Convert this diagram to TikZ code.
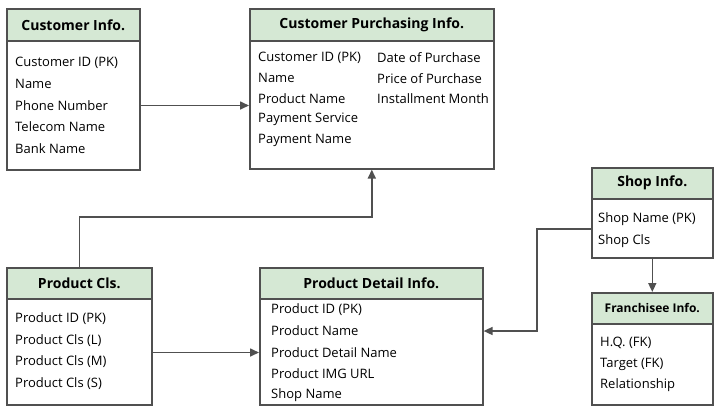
\documentclass[tikz,border=0pt]{standalone}
\usepackage{fontspec}
\setmainfont{Open Sans}
\usetikzlibrary{positioning,
                arrows.meta}                % arrow tips

\definecolor{linegray}{HTML}{505050}
\definecolor{headgreen}{HTML}{D5E8D4}

\begin{document}
\begin{tikzpicture}[x=1pt, y=-1pt,
    box/.style={draw=linegray, line width=1.6pt, fill=white, inner sep=0pt, anchor=north west},
    head/.style={box, fill=headgreen, font=\fontsize{14}{16}\selectfont\bfseries},
    field/.style={anchor=west, inner sep=0pt, yshift=-1.5pt, font=\fontsize{13}{15}\selectfont},
    link/.style={draw=linegray, line width=1.6pt, -{Triangle[length=9pt,width=8pt]}}]
    \useasboundingbox (0,0) rectangle (720,416);

    % customer info
    \node[box, minimum width=133pt, minimum height=161pt] (ci) at (6,8) {};
    \node[head, minimum width=133pt, minimum height=32pt] (cih) at (6,8) {Customer Info.};
    \foreach \t [count=\i] in {Customer ID (PK), Name, Phone Number, Telecom Name, Bank Name}
        \node[field] (ci-\i) at (15,61+21.5*\i-21.5) {\t};

    % customer purchasing info
    \node[box, minimum width=244pt, minimum height=160pt] (cpi) at (249,8) {};
    \node[head, minimum width=244pt, minimum height=32pt] (cpih) at (249,8) {Customer Purchasing Info.};
    \foreach \t [count=\i] in {Customer ID (PK), Name, Product Name, Payment Service, Payment Name}
        \node[field] (cpi-\i) at (258,56+20.75*\i-20.75) {\t};
    \foreach \t [count=\i] in {Date of Purchase, Price of Purchase, Installment Month}
        \node[field] (cpi-r\i) at (377,56+20.75*\i-20.75) {\t};

    % product cls
    \node[box, minimum width=145pt, minimum height=137pt] (pc) at (6,267) {};
    \node[head, minimum width=145pt, minimum height=31pt] (pch) at (6,267) {Product Cls.};
    \foreach \t [count=\i] in {Product ID (PK), Product Cls (L), Product Cls (M), Product Cls (S)}
        \node[field] (pc-\i) at (15,317+21.6*\i-21.6) {\t};

    % product detail info
    \node[box, minimum width=223pt, minimum height=137pt] (pdi) at (259,267) {};
    \node[head, minimum width=223pt, minimum height=31pt] (pdih) at (259,267) {Product Detail Info.};
    \foreach \t [count=\i] in {Product ID (PK), Product Name, Product Detail Name, Product IMG URL, Shop Name}
        \node[field] (pdi-\i) at (271,308+21.5*\i-21.5) {\t};

    % shop info
    \node[box, minimum width=121pt, minimum height=90pt] (si) at (591,167) {};
    \node[head, minimum width=121pt, minimum height=31pt] (sih) at (591,167) {Shop Info.};
    \foreach \t [count=\i] in {Shop Name (PK), Shop Cls}
        \node[field] (si-\i) at (598,218+22*\i-22) {\t};

    % franchisee info
    \node[box, minimum width=121pt, minimum height=112pt] (fi) at (591,292) {};
    \node[head, minimum width=121pt, minimum height=31pt, font=\fontsize{12}{14}\selectfont\bfseries] (fih) at (591,292) {Franchisee Info.};
    \foreach \t [count=\i] in {H.Q. (FK), Target (FK), Relationship}
        \node[field] (fi-\i) at (600,341+21.5*\i-21.5) {\t};

    \draw[link] (ci-3 -| ci.east) -- (ci-3 -| cpi.west);
    \draw[link] (pc.north) -- ++(0,-50) -| (cpi.south);
    \draw[link] (pdi-3 -| pc.east) -- (pdi-3 -| pdi.west);
    \draw[link] (si.south) -- (fi.north);
    \draw[link] ([yshift=-16pt]si.west) -- ++(-54,0) |- (pdi-2 -| pdi.east);
\end{tikzpicture}
\end{document}
